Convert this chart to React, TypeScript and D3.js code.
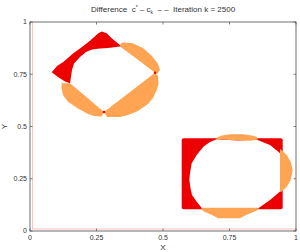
import React from "react";
import * as d3 from "d3";

// tick values / labels
const xTicks = [0, 0.25, 0.5, 0.75, 1];
const yTicks = [0, 0.25, 0.5, 0.75, 1];
const tickLabels = ["0", "0.25", "0.5", "0.75", "1"];

// faint residual contour near the left / bottom border
const residualLevel = 0.0095;

// upper-left shape (rotated square vs. disc)
const diamondRed: [number, number][] = [
  [0.0816, 0.7593], [0.1015, 0.7895], [0.1252, 0.8086], [0.1628, 0.8502],
  [0.1955, 0.8804], [0.2256, 0.9105], [0.2568, 0.9459], [0.2695, 0.9545],
  [0.2883, 0.9459], [0.3071, 0.922], [0.3383, 0.89], [0.3383, 0.8828],
  [0.2932, 0.8756], [0.2632, 0.8732], [0.2331, 0.8684], [0.2105, 0.8565],
  [0.188, 0.8325], [0.1654, 0.8014], [0.1579, 0.7703], [0.1541, 0.7368],
  [0.1504, 0.7067], [0.1316, 0.7153], [0.1053, 0.7368],
];
const diamondOrangeUpper: [number, number][] = [
  [0.3383, 0.89], [0.3459, 0.9019], [0.3835, 0.8995], [0.4248, 0.8756],
  [0.4586, 0.8373], [0.4812, 0.799], [0.4887, 0.7703], [0.4774, 0.7512],
  [0.4699, 0.7574], [0.4023, 0.823], [0.3383, 0.8828],
];
const diamondOrangeRight: [number, number][] = [
  [0.4699, 0.7574], [0.4812, 0.7416], [0.4831, 0.7033], [0.4763, 0.6746],
  [0.4624, 0.6364], [0.4436, 0.6077], [0.4023, 0.5718], [0.3684, 0.555],
  [0.3383, 0.5455], [0.2895, 0.5455], [0.2782, 0.5694], [0.3759, 0.6651],
];
const diamondOrangeLeft: [number, number][] = [
  [0.2782, 0.5694], [0.2695, 0.5478], [0.2406, 0.5502], [0.218, 0.5598],
  [0.1805, 0.5861], [0.1429, 0.6187], [0.1241, 0.6507], [0.1184, 0.6842],
  [0.1192, 0.7067], [0.1504, 0.7067], [0.2143, 0.6383],
];
const vertexMarks: [number, number][] = [[0.4699, 0.7574], [0.2782, 0.5694]];

// lower-right shape (rectangle vs. disc)
const boxX = [0.5703, 0.95];
const boxY = [0.1038, 0.4435];
const boxHole: [number, number][] = [
  [0.7019, 0.4388], [0.782, 0.433], [0.8496, 0.4378], [0.8647, 0.4306],
  [0.9023, 0.4115], [0.9335, 0.3794], [0.9462, 0.3636], [0.9462, 0.1962],
  [0.9248, 0.1722], [0.9023, 0.1483], [0.8759, 0.1244], [0.8583, 0.1086],
  [0.6466, 0.1086], [0.6267, 0.1402], [0.609, 0.1722], [0.6034, 0.2057],
  [0.5989, 0.244], [0.6015, 0.2775], [0.6079, 0.3239], [0.6267, 0.3636],
  [0.6515, 0.4033], [0.6767, 0.4258],
];
const boxOrangeTop: [number, number][] = [
  [0.7019, 0.4474], [0.7218, 0.4569], [0.7519, 0.4627], [0.8008, 0.4627],
  [0.8346, 0.4569], [0.8534, 0.4498], [0.8571, 0.4378], [0.8271, 0.4316],
  [0.782, 0.433], [0.7331, 0.4364], [0.7019, 0.4388],
];
const boxOrangeRight: [number, number][] = [
  [0.9398, 0.3909], [0.9425, 0.3909], [0.965, 0.3636], [0.9801, 0.3316],
  [0.9876, 0.2919], [0.9801, 0.244], [0.965, 0.212], [0.9462, 0.188],
  [0.9398, 0.188],
];
const boxOrangeBottom: [number, number][] = [
  [0.6455, 0.111], [0.8583, 0.111], [0.8609, 0.1029], [0.8346, 0.0885],
  [0.8083, 0.0742], [0.7895, 0.0608], [0.7068, 0.0608], [0.6842, 0.0766],
  [0.6579, 0.0909], [0.6429, 0.1029],
];

const W = 300;
const H = 252;
const margin = { left: 30, right: 4, top: 22, bottom: 21 };
const RED = "#ec0000";
const ORANGE = "#ffa452";
const FONT = "'Liberation Sans', Arial, Helvetica, sans-serif";

export default function App() {
  const x = d3.scaleLinear().domain([0, 1]).range([margin.left, W - margin.right]);
  const y = d3.scaleLinear().domain([0, 1]).range([H - margin.bottom, margin.top]);

  const poly = d3
    .line<[number, number]>()
    .x((d) => x(d[0]))
    .y((d) => y(d[1]))
    .curve(d3.curveLinearClosed);

  const x0 = x(0), x1 = x(1), y0 = y(0), y1 = y(1);
  const axisColor = "#4a4a4a";

  return (
    <svg
      width={W}
      height={H}
      style={{ position: "absolute", left: 0, top: 0, background: "#fff" }}
      fontFamily={FONT}
    >
      <rect width={W} height={H} fill="#fff" />

      {/* residual contour */}
      <line x1={x(residualLevel)} x2={x(residualLevel)} y1={y(residualLevel)} y2={y1}
        stroke="#ffb8b8" strokeWidth={0.9} />
      <line x1={x(residualLevel)} x2={x1} y1={y(residualLevel)} y2={y(residualLevel)}
        stroke="#ffb8b8" strokeWidth={0.9} />

      {/* upper-left shape */}
      <path d={poly(diamondRed) ?? ""} fill={RED} />
      <path d={poly(diamondOrangeUpper) ?? ""} fill={ORANGE} />
      <path d={poly(diamondOrangeRight) ?? ""} fill={ORANGE} />
      <path d={poly(diamondOrangeLeft) ?? ""} fill={ORANGE} />
      {vertexMarks.map((p, i) => (
        <circle key={i} cx={x(p[0])} cy={y(p[1])} r={1.3} fill={RED} />
      ))}

      {/* lower-right shape */}
      <rect
        x={x(boxX[0])}
        y={y(boxY[1])}
        width={x(boxX[1]) - x(boxX[0])}
        height={y(boxY[0]) - y(boxY[1])}
        rx={2}
        fill={RED}
      />
      <path d={poly(boxHole) ?? ""} fill="#fff" />
      <path d={poly(boxOrangeTop) ?? ""} fill={ORANGE} />
      <path d={poly(boxOrangeRight) ?? ""} fill={ORANGE} />
      <path d={poly(boxOrangeBottom) ?? ""} fill={ORANGE} />

      {/* axes box */}
      <rect x={x0} y={y1} width={x1 - x0} height={y0 - y1} fill="none"
        stroke={axisColor} strokeWidth={0.8} />
      {xTicks.map((t, i) => (
        <g key={"x" + i}>
          <line x1={x(t)} x2={x(t)} y1={y0} y2={y0 - 2.5} stroke={axisColor} strokeWidth={0.7} />
          <line x1={x(t)} x2={x(t)} y1={y1} y2={y1 + 2.5} stroke={axisColor} strokeWidth={0.7} />
          <text x={x(t)} y={y0 + 9} fontSize={7} fill="#333" textAnchor="middle">
            {tickLabels[i]}
          </text>
        </g>
      ))}
      {yTicks.map((t, i) => (
        <g key={"y" + i}>
          <line x1={x0} x2={x0 + 2.5} y1={y(t)} y2={y(t)} stroke={axisColor} strokeWidth={0.7} />
          <line x1={x1} x2={x1 - 2.5} y1={y(t)} y2={y(t)} stroke={axisColor} strokeWidth={0.7} />
          <text x={x0 - 3} y={y(t) + 2.4} fontSize={7} fill="#333" textAnchor="end">
            {tickLabels[i]}
          </text>
        </g>
      ))}

      {/* axis labels */}
      <text x={(x0 + x1) / 2} y={H - 2} fontSize={8} fill="#333" textAnchor="middle">X</text>
      <text
        transform={`translate(${7},${(y0 + y1) / 2}) rotate(-90)`}
        fontSize={8}
        fill="#333"
        textAnchor="middle"
      >
        Y
      </text>

      {/* title */}
      <text x={(x0 + x1) / 2} y={12} fontSize={8} fill="#333" textAnchor="middle"
        xmlSpace="preserve" style={{ whiteSpace: "pre" }}>
        <tspan>{"Difference  c"}</tspan>
        <tspan dy={-3} fontSize={5}>*</tspan>
        <tspan dy={3}>{" – c"}</tspan>
        <tspan dy={2} fontSize={5}>k</tspan>
        <tspan dy={-2}>{"  – –  Iteration k = 2500"}</tspan>
      </text>
    </svg>
  );
}
